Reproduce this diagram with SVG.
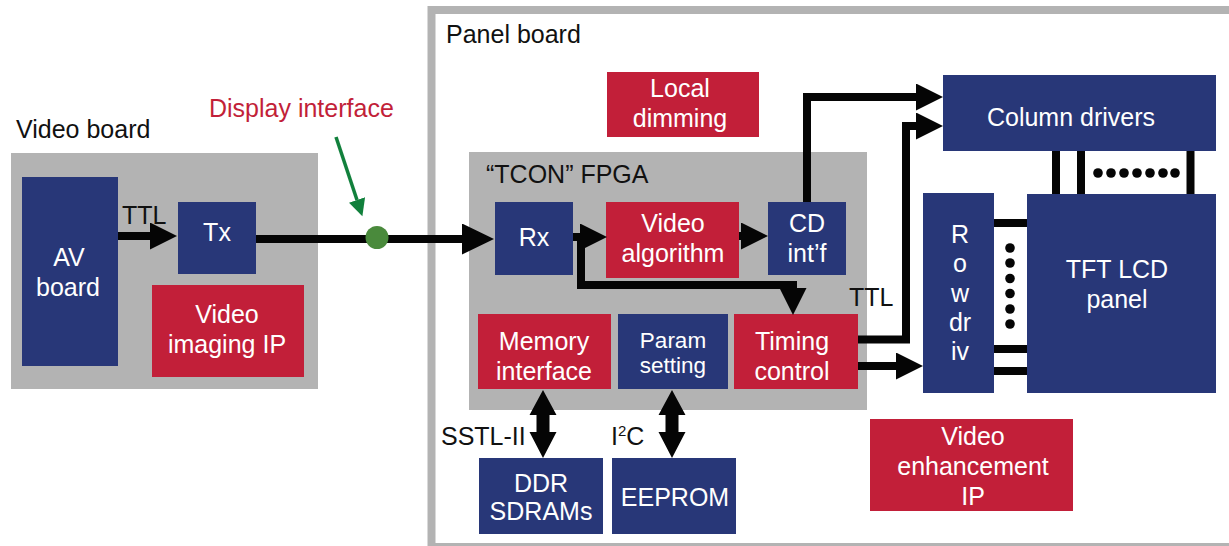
<svg xmlns="http://www.w3.org/2000/svg" width="1229" height="546" viewBox="0 0 1229 546">
<style>
text{font-family:"Liberation Sans",Arial,sans-serif;font-size:25px;}
.lbl{fill:#111;}
.w{fill:#fff;text-anchor:middle;}
.navy{fill:#283778;}
.red{fill:#c21f39;}
.grey{fill:#b3b3b3;}
.conn{fill:none;stroke:#050505;stroke-width:8;stroke-linejoin:miter;}
.bar{stroke:#050505;stroke-width:8;}
</style>
<defs>
<marker id="ah" markerUnits="userSpaceOnUse" markerWidth="28" markerHeight="27" refX="0" refY="13.5" orient="auto">
<path d="M0,0 L27,13.5 L0,27 z" fill="#050505"/>
</marker>
<marker id="ahL" markerUnits="userSpaceOnUse" markerWidth="33" markerHeight="31" refX="0" refY="15.5" orient="auto">
<path d="M0,0 L32,15.5 L0,31 z" fill="#050505"/>
</marker>
<marker id="ahG" markerUnits="userSpaceOnUse" markerWidth="18" markerHeight="17" refX="0" refY="8.5" orient="auto">
<path d="M0,0 L17,8.5 L0,17 z" fill="#11803c"/>
</marker>
</defs>

<!-- boards -->
<g id="video-board">
<rect class="grey" x="11" y="153" width="307" height="236"/>
<text class="lbl" x="16" y="138">Video board</text>
</g>
<g id="panel-board">
<rect x="431.5" y="10" width="820" height="537" fill="none" stroke="#b3b3b3" stroke-width="8"/>
<text class="lbl" x="446" y="43">Panel board</text>
</g>
<g id="tcon-fpga">
<rect class="grey" x="469" y="152" width="398" height="258"/>
<text class="lbl" x="486" y="183">“TCON” FPGA</text>
</g>

<!-- nodes -->
<g id="av-board"><rect class="navy" x="22" y="177" width="96" height="189"/>
<text class="w" x="69" y="266">AV</text><text class="w" x="68" y="296">board</text></g>
<g id="tx"><rect class="navy" x="178" y="202" width="78" height="72"/>
<text class="w" x="217" y="241">Tx</text></g>
<g id="video-imaging-ip"><rect class="red" x="152" y="285" width="152" height="92"/>
<text class="w" x="227" y="323">Video</text><text class="w" x="227" y="353">imaging IP</text></g>
<g id="local-dimming"><rect class="red" x="607" y="72" width="152" height="65"/>
<text class="w" x="680" y="97">Local</text><text class="w" x="680" y="127">dimming</text></g>
<g id="rx"><rect class="navy" x="495" y="202" width="78" height="73"/>
<text class="w" x="534" y="246">Rx</text></g>
<g id="video-algorithm"><rect class="red" x="606" y="202" width="133" height="76"/>
<text class="w" x="673" y="232">Video</text><text class="w" x="673" y="262">algorithm</text></g>
<g id="cd-intf"><rect class="navy" x="768" y="202" width="78" height="73"/>
<text class="w" x="807" y="232">CD</text><text class="w" x="807" y="262">int’f</text></g>
<g id="memory-interface"><rect class="red" x="478" y="314" width="133" height="75"/>
<text class="w" x="544" y="350">Memory</text><text class="w" x="544" y="380">interface</text></g>
<g id="param-setting"><rect class="navy" x="618" y="314" width="110" height="75"/>
<text class="w" x="673" y="348" style="font-size:22.5px">Param</text><text class="w" x="673" y="373" style="font-size:22.5px">setting</text></g>
<g id="timing-control"><rect class="red" x="734" y="314" width="124" height="75"/>
<text class="w" x="792" y="350">Timing</text><text class="w" x="792" y="380">control</text></g>
<g id="column-drivers"><rect class="navy" x="943" y="75" width="273" height="76"/>
<text class="w" x="1071" y="126">Column drivers</text></g>
<g id="row-drivers"><rect class="navy" x="923" y="193" width="71" height="200"/>
<text class="w" x="960" y="243">R</text><text class="w" x="960" y="272">o</text><text class="w" x="960" y="302">w</text><text class="w" x="960" y="331">dr</text><text class="w" x="960" y="360">iv</text></g>
<g id="tft-lcd-panel"><rect class="navy" x="1027" y="194" width="189" height="199"/>
<text class="w" x="1117" y="278">TFT LCD</text><text class="w" x="1117" y="308">panel</text></g>
<g id="ddr-sdrams"><rect class="navy" x="479" y="458" width="124" height="76"/>
<text class="w" x="541" y="492">DDR</text><text class="w" x="541" y="520">SDRAMs</text></g>
<g id="eeprom"><rect class="navy" x="612" y="458" width="124" height="76"/>
<text class="w" x="675" y="506">EEPROM</text></g>
<g id="video-enhancement-ip"><rect class="red" x="870" y="419" width="203" height="92"/>
<text class="w" x="973" y="445">Video</text><text class="w" x="973" y="475">enhancement</text><text class="w" x="973" y="505">IP</text></g>

<!-- connectors -->
<g id="connectors">
<path class="conn" d="M118,236 H150" marker-end="url(#ah)"/>
<path class="conn" d="M256,239 H462" marker-end="url(#ahL)"/>
<path class="conn" d="M573,237 H580" marker-end="url(#ah)"/>
<path class="conn" d="M581,237 V285 H793 V288" marker-end="url(#ah)"/>
<path class="conn" d="M739,236 H741" marker-end="url(#ah)"/>
<path class="conn" d="M807,202 V97 H916" marker-end="url(#ah)"/>
<path class="conn" d="M858,339.5 H906 V126 H916" marker-end="url(#ah)"/>
<path class="conn" d="M858,366 H896" marker-end="url(#ah)"/>
<polygon points="543,390 556.5,415 549.5,415 549.5,432 556.5,432 543,458 529.5,432 536.5,432 536.5,415 529.5,415" fill="#050505"/>
<polygon points="672,390 685.5,415 678.5,415 678.5,432 685.5,432 672,458 658.5,432 665.5,432 665.5,415 658.5,415" fill="#050505"/>
<line class="bar" x1="1056" y1="151" x2="1056" y2="194"/>
<line class="bar" x1="1081" y1="151" x2="1081" y2="194"/>
<line class="bar" x1="1190.5" y1="151" x2="1190.5" y2="194"/>
<line class="bar" x1="994" y1="223" x2="1027" y2="223"/>
<line class="bar" x1="994" y1="349" x2="1027" y2="349"/>
<line class="bar" x1="994" y1="371" x2="1027" y2="371"/>
<g fill="#050505">
<circle cx="1098" cy="173" r="4.8"/><circle cx="1111" cy="173" r="4.8"/><circle cx="1124" cy="173" r="4.8"/><circle cx="1137" cy="173" r="4.8"/><circle cx="1150" cy="173" r="4.8"/><circle cx="1163" cy="173" r="4.8"/><circle cx="1175" cy="173" r="4.8"/>
<circle cx="1010" cy="248" r="4.8"/><circle cx="1010" cy="263" r="4.8"/><circle cx="1010" cy="278.5" r="4.8"/><circle cx="1010" cy="293.5" r="4.8"/><circle cx="1010" cy="309" r="4.8"/><circle cx="1010" cy="324" r="4.8"/>
</g>
<path d="M336,137 L357,200" fill="none" stroke="#11803c" stroke-width="3.5" marker-end="url(#ahG)"/>
<circle cx="377" cy="237.5" r="11.5" fill="#4a8a3c"/>
</g>

<!-- labels -->
<text class="lbl" x="122" y="224">TTL</text>
<text x="209" y="117" fill="#c21f39">Display interface</text>
<text class="lbl" x="849" y="306">TTL</text>
<text class="lbl" x="441" y="445">SSTL-II</text>
<text class="lbl" x="611" y="445">I<tspan font-size="15" dy="-9">2</tspan><tspan dy="9">C</tspan></text>
</svg>
